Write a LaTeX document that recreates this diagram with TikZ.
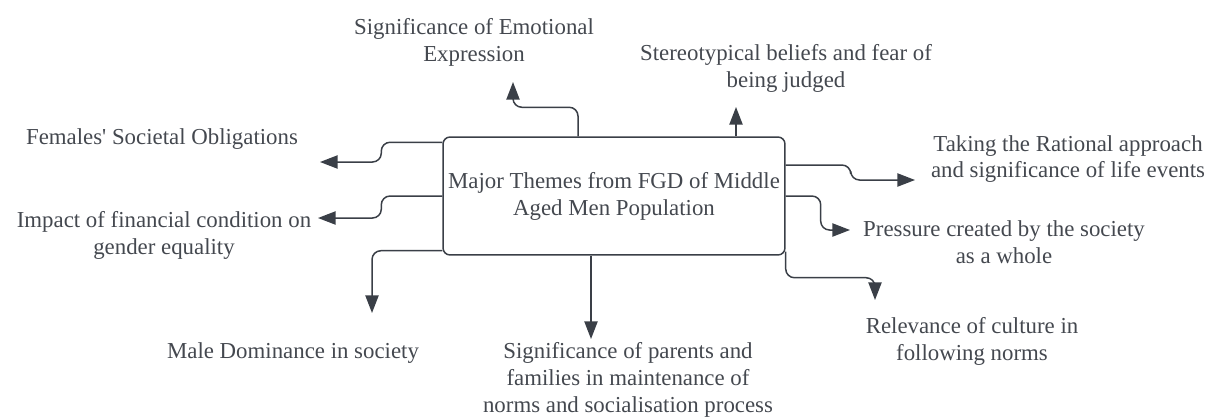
\documentclass[tikz,border=0pt]{standalone}
\usepackage{fontspec}
\setmainfont{Liberation Serif}
\usetikzlibrary{arrows.meta,calc}
\definecolor{linegray}{HTML}{3A3F47}
\definecolor{textgray}{HTML}{44484F}

\begin{document}
\begin{tikzpicture}[x=0.02cm, y=-0.02cm,
  every node/.style={font=\fontsize{13pt}{15.3pt}\selectfont, text=textgray, align=center, inner sep=0pt},
  theme/.style={rectangle, rounded corners=4pt, draw=linegray, line width=0.85pt, minimum width=6.84cm, minimum height=2.36cm},
  link/.style={draw=linegray, line width=0.85pt, rounded corners=5pt, -{Triangle[length=10pt,width=7.5pt]}},
]
\useasboundingbox (0,0) rectangle (1212,416);
\node[theme] (main) at (614,196) {Major Themes from FGD of Middle\\Aged Men Population};

\node (emotion) at (474,42) {Significance of Emotional\\Expression};
\node (stereo) at (786,68) {Stereotypical beliefs and fear of\\being judged};
\node (females) at (162,139) {Females\textquotesingle\ Societal Obligations};
\node (finance) at (164,235) {Impact of financial condition on\\gender equality};
\node (male) at (293,353) {Male Dominance in society};
\node (parents) at (628,380) {Significance of parents and\\families in maintenance of\\norms and socialisation process};
\node (culture) at (972,341) {Relevance of culture in\\following norms};
\node (pressure) at (1004,242) {Pressure created by the society\\as a whole};
\node (rational) at (1068,159) {Taking the Rational approach\\and significance of life events};

\coordinate (emotionTip) at (513,82);
\coordinate (stereoTip) at (736,107);
\coordinate (femalesTip) at (320,162);
\coordinate (financeTip) at (318,218);
\coordinate (maleTip) at (372,313);
\coordinate (parentsTip) at (591,339);
\coordinate (cultureTip) at (875,300);
\coordinate (pressureTip) at (850,230);
\coordinate (rationalTip) at (915,180);

\draw[link] ($(main.north)+(-36,0)$) -- ++(0,-29) -| (emotionTip);
\draw[link] ($(main.north)+(122,0)$) -- (stereoTip);
\draw[link] ($(main.north west)+(0,6)$) -- ++(-61,0) |- (femalesTip);
\draw[link] (main.west) -- ++(-61,0) |- (financeTip);
\draw[link] ($(main.south west)+(0,-5)$) -| (maleTip);
\draw[link] ($(main.south)+(-23,0)$) -- (parentsTip);
\draw[link] ($(main.south east)+(0,-4)$) -- ++(0,26) -| (cultureTip);
\draw[link] (main.east) -- ++(35,0) |- (pressureTip);
\draw[link] ($(main.east)+(0,-31)$) -- ++(65,0) |- (rationalTip);
\end{tikzpicture}
\end{document}
